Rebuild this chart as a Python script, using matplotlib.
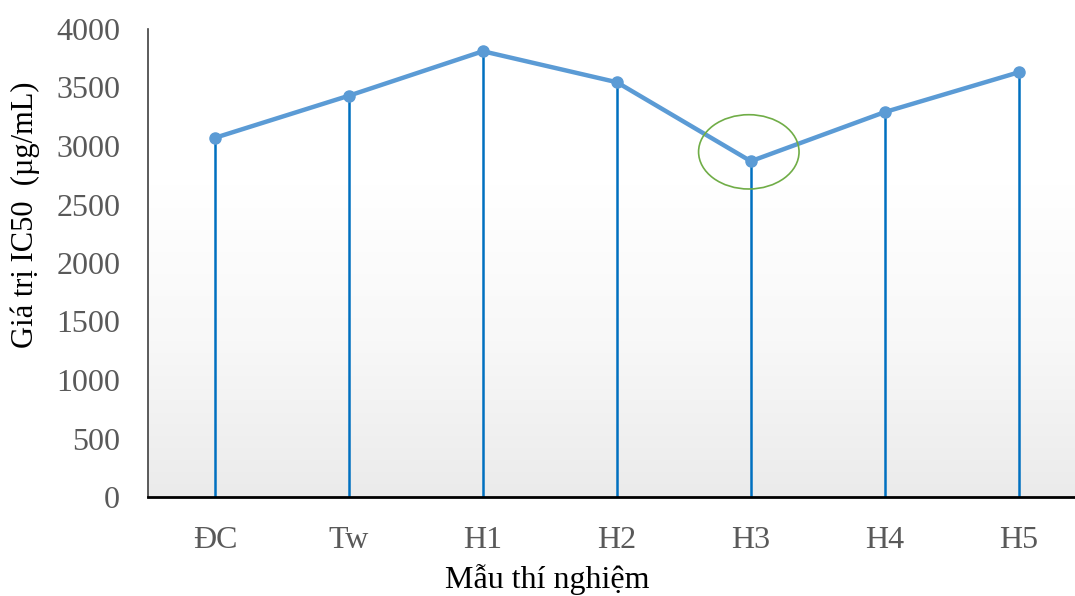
import numpy as np
import matplotlib.pyplot as plt
from matplotlib.colors import LinearSegmentedColormap
from matplotlib.patches import Ellipse

plt.rcParams["font.family"] = ["Liberation Serif", "DejaVu Serif"]

# IC50 per sample
samples = ["ĐC", "Tw", "H1", "H2", "H3", "H4", "H5"]
ic50 = [3070, 3430, 3810, 3545, 2870, 3290, 3630]
y_ticks = [0, 500, 1000, 1500, 2000, 2500, 3000, 3500, 4000]
highlight = "H3"

fig = plt.figure(figsize=(10.75, 5.96), dpi=100)
ax = fig.add_axes([148 / 1075, 99 / 596, 927 / 1075, 468 / 596])

x = np.arange(len(samples))
ax.set_xlim(-0.5, 6.42)
ax.set_ylim(0, 4000)

# soft vertical fade behind the plot
fade = LinearSegmentedColormap.from_list("fade", ["#ebebeb", "#f8f8f8", "#ffffff", "#ffffff"])
grad = np.linspace(0, 1, 256).reshape(-1, 1)
ax.imshow(grad, extent=[0, 1, 0, 1], transform=ax.transAxes, aspect="auto",
          cmap=fade, origin="lower", zorder=0)

ax.vlines(x, 0, ic50, color="#0070C0", linewidth=1.8, zorder=2)
ax.plot(x, ic50, color="#5B9BD5", linewidth=3.2, marker="o",
        markersize=8, zorder=3)

i = samples.index(highlight)
ax.add_patch(Ellipse((x[i] - 0.015, ic50[i] + 80), 0.75, 635,
                     fill=False, edgecolor="#70AD47", linewidth=1.2, zorder=4))

ax.set_xticks(x)
ax.set_xticklabels(samples)
ax.set_yticks(y_ticks)
ax.tick_params(axis="both", length=0, labelsize=23, labelcolor="#595959")
ax.tick_params(axis="x", pad=21)
ax.tick_params(axis="y", pad=20)

for side in ("top", "right"):
    ax.spines[side].set_visible(False)
ax.spines["left"].set_color("#404040")
ax.spines["left"].set_linewidth(1.2)
ax.spines["bottom"].set_color("#000000")
ax.spines["bottom"].set_linewidth(2)

ax.set_ylabel("Giá trị IC50  (µg/mL)", fontsize=22, color="black")
ax.yaxis.set_label_coords(-(148 - 40) / 927, (497 - 215) / 468)
ax.set_xlabel("Mẫu thí nghiệm", fontsize=23, color="black")
ax.xaxis.set_label_coords((547 - 148) / 927, -(564 - 497) / 468)

fig.savefig("out.png", dpi=100)
